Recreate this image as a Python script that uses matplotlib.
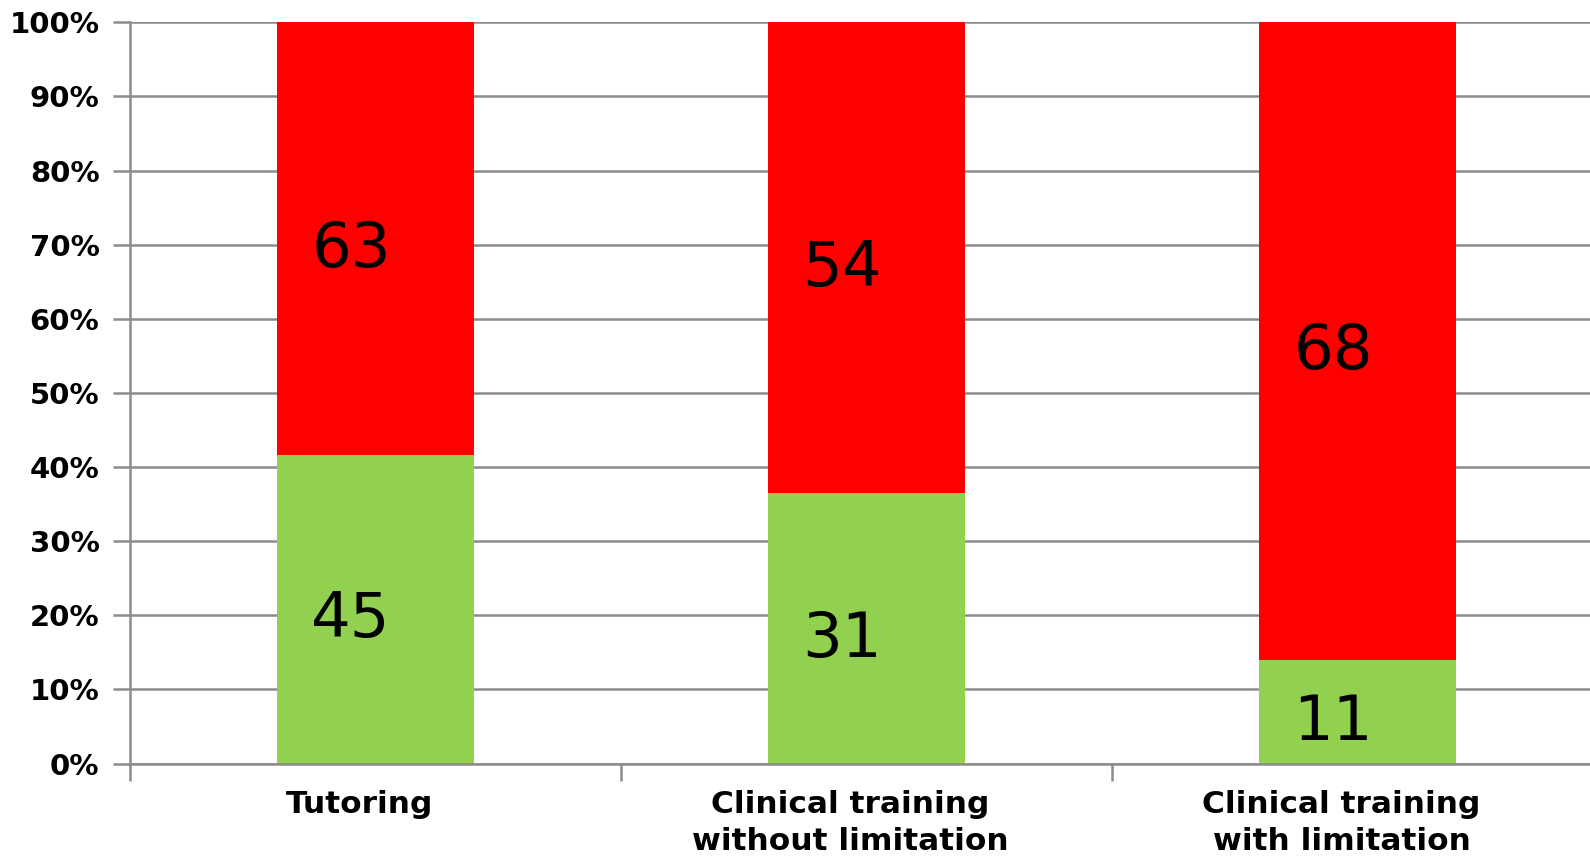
import numpy as np
import matplotlib.pyplot as plt
from matplotlib.ticker import FixedLocator, PercentFormatter
from matplotlib.transforms import ScaledTranslation

categories = ["Tutoring", "Clinical training\nwithout limitation", "Clinical training\nwith limitation"]
green_counts = [45, 31, 11]
red_counts = [63, 54, 68]

GREEN = "#92D050"
RED = "#FF0000"
GRID = "#8C8C8C"


def main():
    green = np.array(green_counts, dtype=float)
    red = np.array(red_counts, dtype=float)
    total = green + red
    green_pct = green / total * 100
    red_pct = red / total * 100

    fig = plt.figure(figsize=(15.9, 8.56), dpi=100)
    # plot area runs a little past the right edge of the figure
    ax = fig.add_axes([130 / 1590, 1 - 763.6 / 856, (1603 - 130) / 1590, (763.6 - 22.3) / 856])

    x = np.arange(len(categories))
    ax.bar(x, green_pct, width=0.4, color=GREEN, zorder=2)
    ax.bar(x, red_pct, width=0.4, bottom=green_pct, color=RED, zorder=2)

    # count labels, centred in each segment (nudged a bit left/down)
    for i in range(len(categories)):
        ax.text(x[i] - 0.05, green_pct[i] / 2 - 1.5, f"{green_counts[i]}",
                ha="center", va="center", fontsize=45, zorder=3)
        ax.text(x[i] - 0.05, green_pct[i] + red_pct[i] / 2 - 1.5, f"{red_counts[i]}",
                ha="center", va="center", fontsize=45, zorder=3)

    ax.set_xlim(-0.5, 2.5)
    ax.set_ylim(0, 100)
    ax.set_yticks(np.arange(0, 101, 10))
    ax.yaxis.set_major_formatter(PercentFormatter(decimals=0))
    ax.yaxis.grid(True, color=GRID, linewidth=1.8, zorder=1)
    ax.tick_params(axis="y", length=12, width=1.8, color=GRID, labelsize=21, pad=10)
    for lbl in ax.get_yticklabels():
        lbl.set_fontweight("bold")

    ax.set_xticks(x)
    ax.set_xticklabels(categories, fontsize=22.5, fontweight="bold", linespacing=1.35)
    ax.tick_params(axis="x", which="major", length=0, pad=19)
    shift = ScaledTranslation(-0.16, 0, fig.dpi_scale_trans)
    for lbl in ax.get_xticklabels():
        lbl.set_transform(lbl.get_transform() + shift)
    ax.xaxis.set_minor_locator(FixedLocator([-0.5, 0.5, 1.5, 2.5]))
    ax.tick_params(axis="x", which="minor", length=12, width=1.8, color=GRID)

    for side in ("top", "right"):
        ax.spines[side].set_visible(False)
    for side in ("left", "bottom"):
        ax.spines[side].set_color(GRID)
        ax.spines[side].set_linewidth(1.8)

    fig.savefig("out.png", dpi=100)
    plt.close(fig)


if __name__ == "__main__":
    main()
